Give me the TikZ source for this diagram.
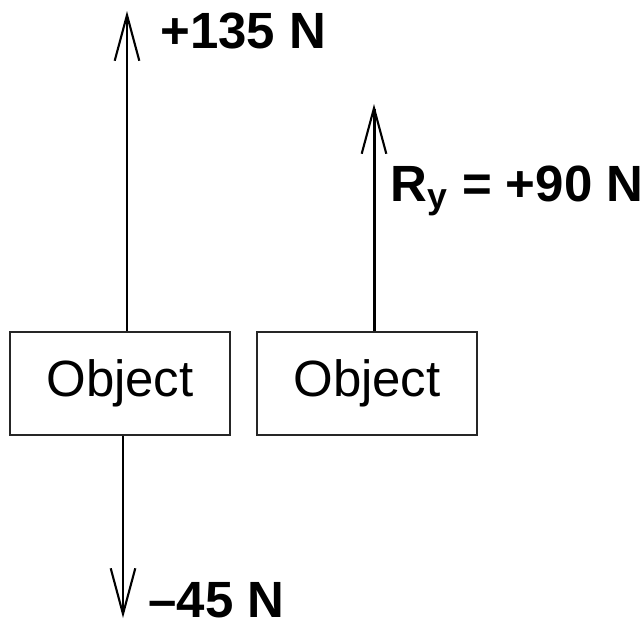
\documentclass[tikz,border=0pt]{standalone}
\usepackage{fontspec}
\setmainfont{Liberation Sans}
\usetikzlibrary{arrows.meta}

\tikzset{
  objbox/.style={draw=black!85,line width=1.1pt,minimum width=4.4cm,minimum height=2.06cm,inner sep=0pt,font=\fontsize{29}{31}\selectfont},
  force/.style={line width=1.7pt,-{Straight Barb[length=26pt,width=14pt,line width=1.2pt]}},
  flabel/.style={font=\fontsize{29}{31}\selectfont\bfseries,inner sep=0pt}
}

\begin{document}
\begin{tikzpicture}
\useasboundingbox (0,0) rectangle (12.8,-12.4);
\node[objbox] (obj1) at (2.40,-7.67) {Object};
\node[objbox] (obj2) at (7.34,-7.67) {Object};
\coordinate (up1) at (2.54,-0.22);
\coordinate (dn1) at (2.46,-12.36);
\coordinate (up2) at (7.48,-2.08);
\draw[force] (obj1.north -| up1) -- (up1);
\draw[force] (obj1.south -| dn1) -- (dn1);
\draw[force] (obj2.north -| up2) -- (up2);
\node[flabel,anchor=west] (l1) at (3.20,-0.62) {+135 N};
\node[flabel,anchor=west] (l2) at (7.80,-3.82) {R\textsubscript{y} = +90 N};
\node[flabel,anchor=west] (l3) at (2.96,-12.00) {–45 N};
\end{tikzpicture}
\end{document}
